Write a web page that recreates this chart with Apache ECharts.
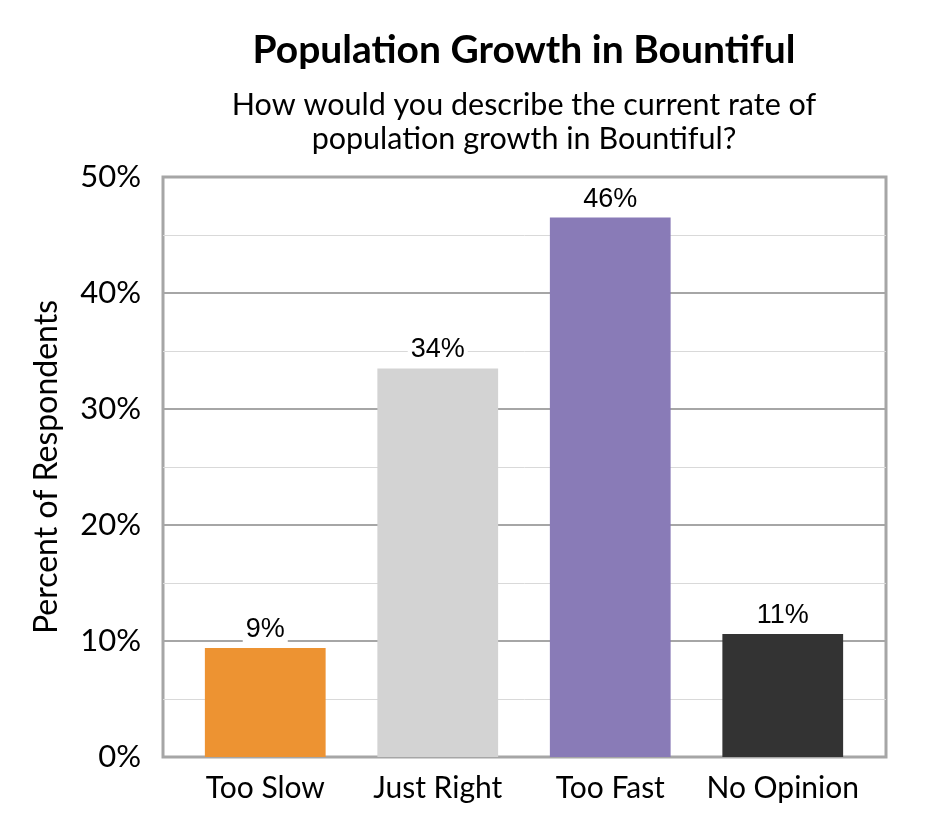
<!DOCTYPE html>
<html>
<head>
<meta charset="utf-8">
<script src="https://cdn.jsdelivr.net/npm/echarts@6/dist/echarts.min.js"></script>
<style>html,body{margin:0;padding:0;background:#fff;}#c{width:945px;height:840px;}</style>
</head>
<body>
<div id="c"></div>
<script>
const categories = ['Too Slow', 'Just Right', 'Too Fast', 'No Opinion'];
const values = [9.4, 33.5, 46.5, 10.6];
const labels = ['9%', '34%', '46%', '11%'];
const colors = ['#ED9332', '#D3D3D3', '#897BB7', '#333333'];
const yTicks = [0, 10, 20, 30, 40, 50];

const yMin = yTicks[0], yMax = yTicks[yTicks.length - 1];
const chart = echarts.init(document.getElementById('c'));
chart.setOption({
  backgroundColor: '#fff',
  animation: false,
  title: [
    { text: 'Population Growth in Bountiful', left: 524, top: 31, padding: 0, textAlign: 'center',
      textStyle: { fontFamily: 'Lato', fontWeight: 'bold', fontSize: 39, color: '#000' } },
    { text: 'How would you describe the current rate of\npopulation growth in Bountiful?', left: 524, top: 88, padding: 0, textAlign: 'center',
      textStyle: { fontFamily: 'Lato', fontWeight: 'normal', fontSize: 30.5, lineHeight: 34, color: '#000' } }
  ],
  grid: [
    { left: 163, right: 59, top: 177, bottom: 83, show: true, borderColor: '#a6a6a6', borderWidth: 3 },
    { left: 179, right: 76, top: 177, bottom: 83 }
  ],
  xAxis: [
    { type: 'value', gridIndex: 0, show: false, min: 0, max: 1 },
    { type: 'category', gridIndex: 1, data: categories,
      axisLine: { show: false }, axisTick: { show: false },
      axisLabel: { interval: 0, fontFamily: 'Lato', fontSize: 30, color: '#000', margin: 16 } }
  ],
  yAxis: [
    { type: 'value', gridIndex: 0, min: yMin, max: yMax, interval: 10,
      name: 'Percent of Respondents', nameLocation: 'middle', nameGap: 100,
      nameTextStyle: { fontFamily: 'Lato', fontSize: 32, color: '#000' },
      axisLine: { show: false }, axisTick: { show: false },
      axisLabel: { fontFamily: 'Lato', fontSize: 31, color: '#000', margin: 22, formatter: v => v + '%' },
      splitLine: { show: true, lineStyle: { color: '#a6a6a6', width: 2 } },
      minorTick: { show: false, splitNumber: 2 },
      minorSplitLine: { show: true, lineStyle: { color: '#d9d9d9', width: 1 } } },
    { type: 'value', gridIndex: 1, min: yMin, max: yMax, interval: 10, show: false,
      splitLine: { show: false } }
  ],
  series: [{
    type: 'bar', xAxisIndex: 1, yAxisIndex: 1, barWidth: '70%',
    data: values.map((v, i) => ({ value: v, itemStyle: { color: colors[i] } })),
    label: {
      show: true, position: 'top', distance: 5,
      formatter: p => labels[p.dataIndex],
      fontFamily: 'Liberation Sans', fontSize: 27, color: '#000',
      backgroundColor: '#fff', padding: [0, 3]
    }
  }]
});
</script>
</body>
</html>
